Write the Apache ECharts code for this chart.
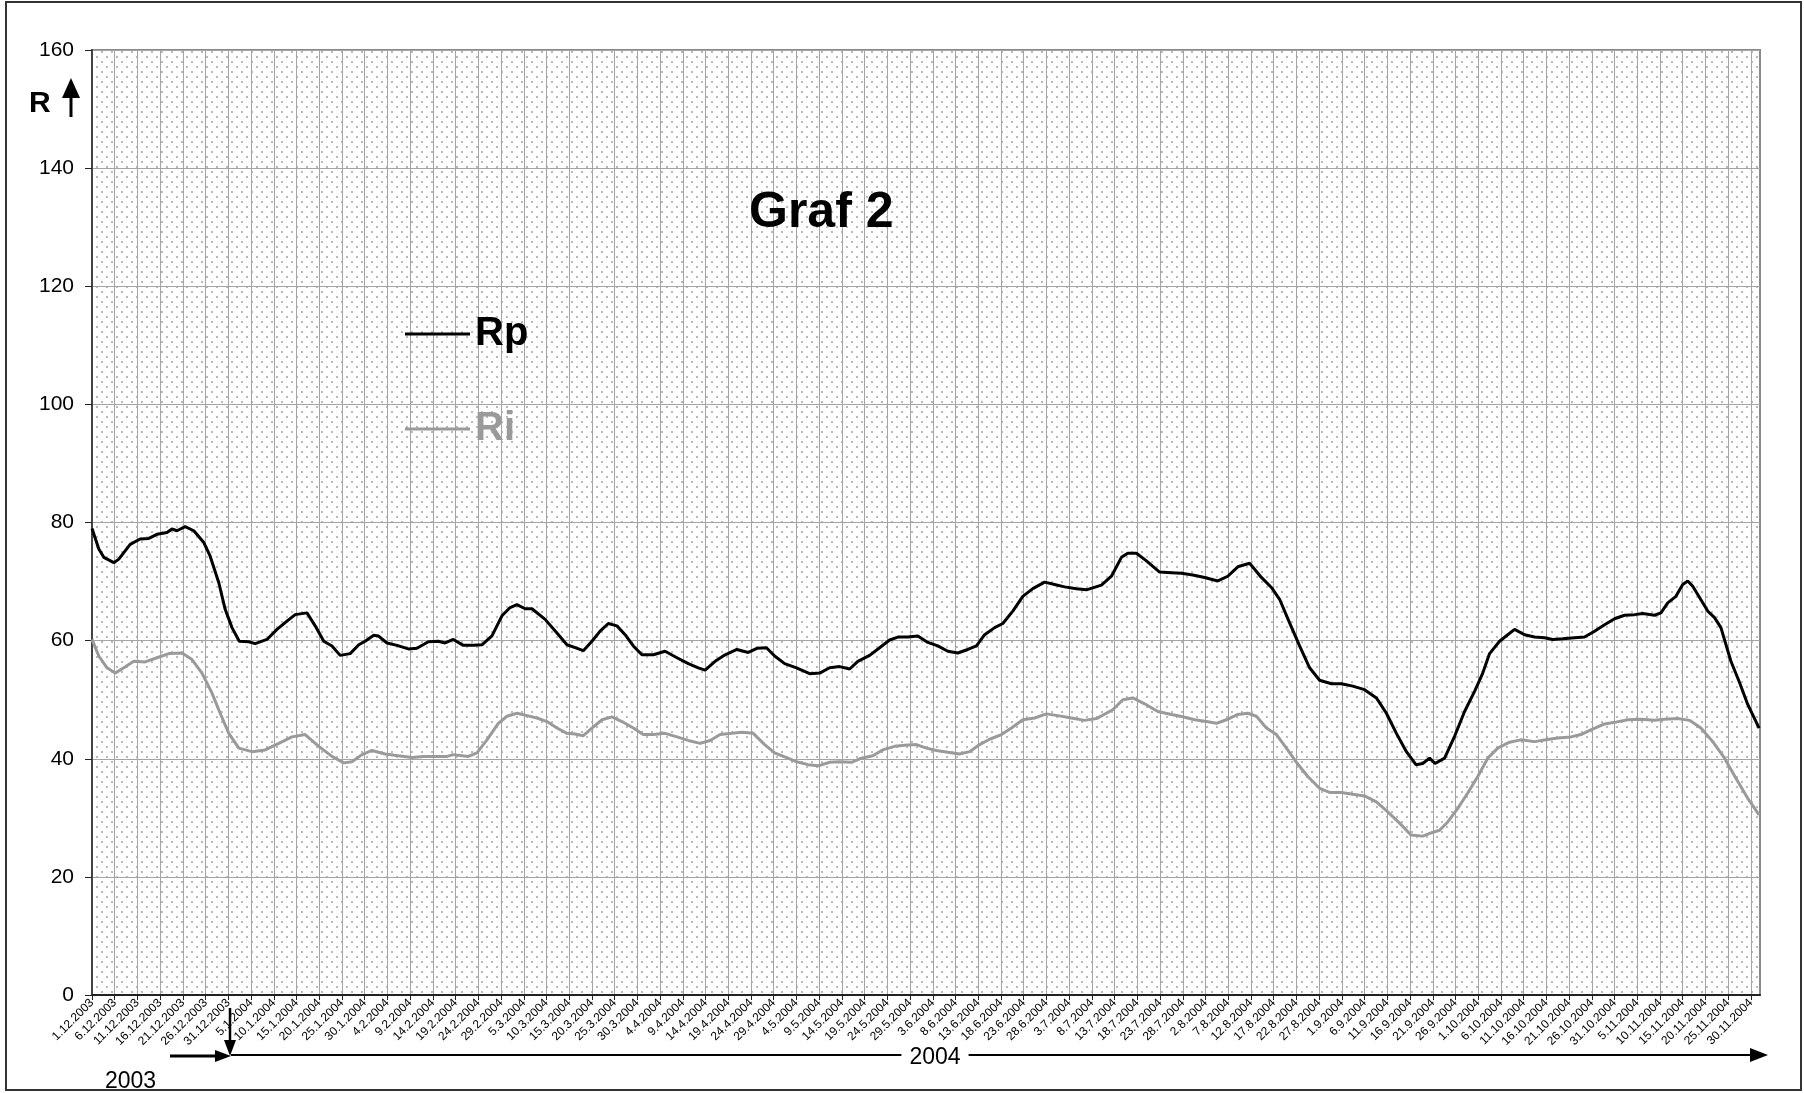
<!DOCTYPE html>
<html>
<head>
<meta charset="utf-8">
<script src="https://cdn.jsdelivr.net/npm/echarts@6/dist/echarts.min.js"></script>
<style>
html,body{margin:0;padding:0;background:#fff;}
#chart{width:1804px;height:1093px;}
</style>
</head>
<body>
<div id="chart"></div>
<script>
// Day offsets counted from 1.12.2003 (day 0)
const tickLabels = [
 '1.12.2003','6.12.2003','11.12.2003','16.12.2003','21.12.2003','26.12.2003','31.12.2003',
 '5.1.2004','10.1.2004','15.1.2004','20.1.2004','25.1.2004','30.1.2004',
 '4.2.2004','9.2.2004','14.2.2004','19.2.2004','24.2.2004','29.2.2004',
 '5.3.2004','10.3.2004','15.3.2004','20.3.2004','25.3.2004','30.3.2004',
 '4.4.2004','9.4.2004','14.4.2004','19.4.2004','24.4.2004','29.4.2004',
 '4.5.2004','9.5.2004','14.5.2004','19.5.2004','24.5.2004','29.5.2004',
 '3.6.2004','8.6.2004','13.6.2004','18.6.2004','23.6.2004','28.6.2004',
 '3.7.2004','8.7.2004','13.7.2004','18.7.2004','23.7.2004','28.7.2004',
 '2.8.2004','7.8.2004','12.8.2004','17.8.2004','22.8.2004','27.8.2004',
 '1.9.2004','6.9.2004','11.9.2004','16.9.2004','21.9.2004','26.9.2004',
 '1.10.2004','6.10.2004','11.10.2004','16.10.2004','21.10.2004','26.10.2004','31.10.2004',
 '5.11.2004','10.11.2004','15.11.2004','20.11.2004','25.11.2004','30.11.2004'
];
const tickStep = 5;
const yTicks = [0, 20, 40, 60, 80, 100, 120, 140, 160];

const rpDays = [0,1.5,2.6,4.8,5.9,8.4,10.6,12.5,14.3,16.5,17.6,18.7,20.5,22.4,24.6,26,27.9,29.3,30.8,32.4,34.5,35.9,38.5,40.7,42.9,44.7,47.3,49.1,51,52.8,54.6,56.8,58.7,60.1,62,63,64.9,67.1,69.6,71.5,
 74,76.2,77.7,79.5,81.7,83.9,85.8,88,90.2,92,93.5,95.3,96.8,99.7,102.3,104.5,106.3,108.1,110,111.8,113.6,115.5,117.3,119.1,121,123.5,126.1,128.7,131.2,133.4,134.9,137.1,139.3,141.9,144.4,
 146.3,148.4,150.2,152.4,155,157.9,160.1,162.3,164.5,166.7,168.5,171.1,173.3,175.5,177.3,179.5,181.7,183.9,186.1,188.3,190.5,192.7,194.6,196.4,198.6,200.4,202.6,204.8,207,209.6,211.8,214,216.6,218.8,
 222.1,224.3,226.5,227.9,229.8,232,234.9,237.5,239.7,242.2,244.8,247.7,249.9,252.1,254.7,257.3,259.5,261.3,263.5,265.7,267.9,270.1,272.7,274.9,277.4,280,282.6,284.8,287,289.2,291.3,292.8,294.3,
 295.5,297.6,299.8,302,304.2,306,307.5,309.7,311.5,313,315.2,317.4,319.6,321.4,323.6,326.2,328.4,330.6,332.8,335,337.2,339.4,341.2,343.8,345.2,346.7,348.5,350,351.1,352.2,353.7,355.5,357,358.4,360.6,362.5,364.3,366.8];
const rpVals = [79.0,75.5,74.1,73.2,73.8,76.3,77.2,77.3,78.0,78.3,78.9,78.6,79.3,78.6,76.6,74.3,69.8,65.3,62.2,59.9,59.8,59.5,60.2,61.9,63.3,64.4,64.7,62.5,59.9,59.1,57.5,57.8,59.3,59.9,60.9,60.8,59.6,59.2,58.6,58.7,
 59.8,59.9,59.6,60.2,59.2,59.2,59.3,60.8,64.2,65.6,66.1,65.4,65.4,63.6,61.3,59.3,58.8,58.3,59.9,61.6,62.9,62.5,61.0,59.1,57.6,57.6,58.2,57.1,56.1,55.4,55.0,56.5,57.6,58.5,58.0,
 58.7,58.8,57.4,56.1,55.4,54.4,54.5,55.4,55.6,55.2,56.5,57.5,58.8,60.1,60.6,60.6,60.8,59.7,59.1,58.2,57.9,58.5,59.1,61.0,62.2,62.9,65.0,67.5,68.8,69.9,69.5,69.1,68.8,68.6,
 69.4,70.9,74.1,74.8,74.8,73.5,71.6,71.5,71.4,71.1,70.7,70.1,70.9,72.5,73.1,70.7,69.0,67.0,63.0,59.1,55.4,53.3,52.7,52.7,52.3,51.7,50.3,47.7,44.3,41.2,39.0,39.2,40.1,
 39.2,40.1,43.8,48.0,51.4,54.5,57.8,59.9,61.0,61.9,61.0,60.6,60.5,60.2,60.3,60.5,60.6,61.6,62.7,63.7,64.3,64.4,64.6,64.3,64.7,66.4,67.5,69.5,70.1,69.2,67.3,65.0,63.9,62.2,56.5,52.9,49.2,45.2];

const riDays = [0,1.5,3.3,5.1,7,9.2,11.7,14.3,16.9,19.8,22,24.2,26.4,28.2,30.1,32.3,35.2,38.1,41.1,44,46.9,49.9,52.8,55.4,57.2,59.4,61.6,64.5,67.4,70.4,
 73,75.1,78.1,79.5,82.8,84.7,86.9,89.4,91.3,93.5,95.7,97.9,100.1,102.3,104.5,106.3,108.1,110,112.2,114.4,116.6,119.1,121.3,123.5,126.1,128.7,131.2,133.8,136,138.2,140.8,143,145.5,
 148,150.2,152.4,155,157.6,159.8,162.3,164.5,167.1,169.3,171.8,174,176.6,178.8,181.4,183.6,185.8,188.3,190.9,193.1,195.3,197.5,200.1,202.3,204.8,207.4,210,212.5,215.5,218.4,
 221,224.6,226.8,229,231.6,234.5,237.5,240,242.6,245.2,247.4,249.6,252.1,254.3,256.2,258.4,260.6,262.8,264.9,267.5,270.1,272.3,274.9,277.4,280,282.6,285.1,287.7,290.2,292.8,
 294.5,296.5,298.3,300.5,302.7,304.9,307.1,309.3,311.9,314.4,317.4,319.9,322.5,325.4,327.6,329.8,332.8,335.3,337.9,340.8,343.8,346,348.9,351.5,354,356.6,359.2,361.7,364.3,366.8];
const riVals = [60.2,57.4,55.4,54.5,55.4,56.5,56.4,57.1,57.8,57.9,56.8,54.5,51.1,47.7,44.3,41.8,41.2,41.5,42.6,43.7,44.1,42.1,40.4,39.3,39.5,40.7,41.4,40.8,40.5,40.2,
 40.4,40.4,40.4,40.7,40.4,41.0,43.2,46.0,47.2,47.7,47.3,46.9,46.3,45.2,44.3,44.2,43.9,45.2,46.6,47.1,46.3,45.2,44.1,44.1,44.3,43.7,43.1,42.6,43.1,44.1,44.3,44.5,44.3,
 42.4,41.0,40.3,39.5,39.0,38.8,39.4,39.5,39.4,40.1,40.5,41.5,42.1,42.3,42.4,41.8,41.4,41.1,40.8,41.2,42.4,43.3,44.1,45.2,46.6,46.9,47.6,47.3,46.9,46.5,
 46.8,48.3,50.0,50.3,49.3,48.0,47.5,47.1,46.6,46.3,46.0,46.6,47.5,47.7,47.2,45.2,44.1,41.8,39.5,37.0,35.0,34.3,34.3,34.0,33.7,32.7,31.0,29.1,27.1,26.9,
 27.4,27.9,29.3,31.6,34.2,37.0,40.1,41.8,42.8,43.2,42.9,43.2,43.5,43.7,44.1,44.9,45.9,46.2,46.6,46.7,46.5,46.7,46.8,46.5,45.2,42.9,40.1,36.7,33.3,30.5];

const lastDay = 367;

// dotted plot-area pattern
const pc = document.createElement('canvas');
pc.width = 10; pc.height = 10;
const pctx = pc.getContext('2d');
pctx.fillStyle = '#ffffff'; pctx.fillRect(0, 0, 10, 10);
pctx.fillStyle = '#b9b9b9';
pctx.fillRect(1, 1, 2, 2);
pctx.fillRect(6, 6, 2, 2);

const FONT = "'Liberation Sans', Arial, sans-serif";
const chart = echarts.init(document.getElementById('chart'), null, {renderer: 'canvas'});

const tickValues = tickLabels.map((_, i) => i * tickStep);

const option = {
  backgroundColor: '#ffffff',
  animation: false,
  title: {
    text: 'Graf 2',
    left: 749, top: 188,
    padding: 0,
    textStyle: {fontFamily: FONT, fontSize: 50, fontWeight: 'bold', color: '#000'}
  },
  legend: {
    orient: 'vertical',
    left: 405, top: 314,
    padding: 0,
    itemWidth: 65, itemHeight: 3,
    itemGap: 55,
    icon: 'rect',
    textStyle: {fontFamily: FONT, fontSize: 40, fontWeight: 'bold', lineHeight: 40},
    data: [
      {name: 'Rp', textStyle: {color: '#000000'}},
      {name: 'Ri', textStyle: {color: '#9a9a9a'}}
    ]
  },
  grid: {
    left: 92, right: 44, top: 50, bottom: 98,
    show: true,
    backgroundColor: {image: pc, repeat: 'repeat'},
    borderColor: '#8a8a8a', borderWidth: 2
  },
  xAxis: {
    type: 'value',
    min: 0, max: lastDay,
    interval: tickStep,
    axisLine: {show: true, lineStyle: {color: '#222', width: 2}},
    axisTick: {show: true, length: 5, lineStyle: {color: '#222', width: 1}, customValues: tickValues},
    splitLine: {show: true, lineStyle: {color: '#a4a4a4', width: 1}},
    axisLabel: {
      customValues: tickValues,
      rotate: 45, fontSize: 12, fontFamily: FONT, color: '#000', margin: 6,
      formatter: v => tickLabels[Math.round(v / tickStep)] || ''
    }
  },
  yAxis: {
    type: 'value',
    min: yTicks[0], max: yTicks[yTicks.length - 1], interval: 20,
    axisLine: {show: true, lineStyle: {color: '#444', width: 2}},
    axisTick: {show: true, length: 7, lineStyle: {color: '#222', width: 1}},
    splitLine: {show: true, lineStyle: {color: '#a4a4a4', width: 1}},
    axisLabel: {fontSize: 21, fontFamily: FONT, color: '#000', margin: 18}
  },
  series: [
    {
      name: 'Rp', type: 'line', showSymbol: false, symbol: 'none',
      data: rpDays.map((d, i) => [d, rpVals[i]]),
      lineStyle: {color: '#000000', width: 3},
      itemStyle: {color: '#000000'},
      z: 3
    },
    {
      name: 'Ri', type: 'line', showSymbol: false, symbol: 'none',
      data: riDays.map((d, i) => [d, riVals[i]]),
      lineStyle: {color: '#9a9a9a', width: 3},
      itemStyle: {color: '#9a9a9a'},
      z: 2
    }
  ],
  graphic: [
    // outer frame
    {type: 'rect', shape: {x: 6, y: 2, width: 1795, height: 1088}, style: {fill: null, stroke: '#333', lineWidth: 2}, silent: true, z: 0},
    // R with up arrow
    {type: 'text', left: 29, top: 89, style: {text: 'R', font: "bold 30px 'Liberation Sans', Arial", fill: '#000'}},
    {type: 'line', shape: {x1: 71, y1: 96, x2: 71, y2: 117}, style: {stroke: '#000', lineWidth: 3}},
    {type: 'polygon', shape: {points: [[71, 78], [62, 98], [80, 98]]}, style: {fill: '#000'}},
    // 2003 arrow
    {type: 'line', shape: {x1: 170, y1: 1056, x2: 218, y2: 1056}, style: {stroke: '#000', lineWidth: 3}},
    {type: 'polygon', shape: {points: [[231, 1056], [215, 1050], [215, 1062]]}, style: {fill: '#000'}},
    {type: 'line', shape: {x1: 230, y1: 1008, x2: 230, y2: 1042}, style: {stroke: '#000', lineWidth: 2.5}},
    {type: 'polygon', shape: {points: [[230, 1056], [224, 1040], [236, 1040]]}, style: {fill: '#000'}},
    {type: 'text', left: 105, top: 1070, style: {text: '2003', font: "23px 'Liberation Sans', Arial", fill: '#000'}},
    // 2004 arrow
    {type: 'line', shape: {x1: 231, y1: 1055, x2: 1752, y2: 1055}, style: {stroke: '#000', lineWidth: 2}},
    {type: 'polygon', shape: {points: [[1768, 1055], [1750, 1048], [1750, 1062]]}, style: {fill: '#000'}},
    {type: 'text', x: 935, y: 1058, style: {text: '2004', font: "23px 'Liberation Sans', Arial", fill: '#000', align: 'center', verticalAlign: 'middle', backgroundColor: '#fff', padding: [2, 8]}}
  ]
};
chart.setOption(option);
</script>
</body>
</html>
